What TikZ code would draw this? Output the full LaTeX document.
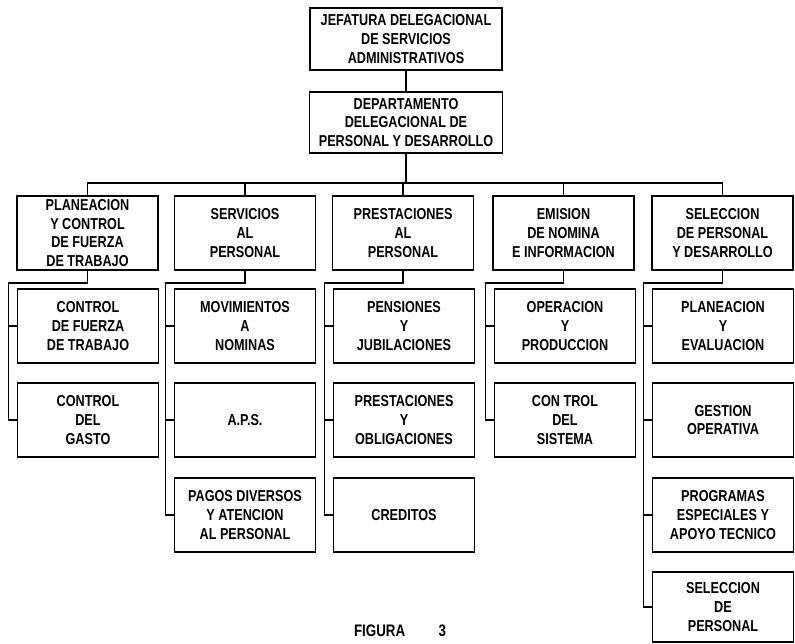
\documentclass[tikz,border=0pt]{standalone}
\usepackage{fontspec}
\setmainfont{Liberation Sans}[FakeStretch=0.8]
\begin{document}
\begin{tikzpicture}[x=0.02cm,y=-0.02cm,line width=1.1pt,
    caja/.style={draw,align=center,font=\bfseries\fontsize{9}{10.6}\selectfont,
      minimum width=2.82cm,minimum height=1.48cm,inner sep=1pt}]
  \useasboundingbox (0,0) rectangle (795,644);
  % upper levels
  \node[caja,minimum width=3.84cm,minimum height=1.24cm] (jefatura) at (406,39)
    {JEFATURA DELEGACIONAL\\DE SERVICIOS\\ADMINISTRATIVOS};
  \node[caja,minimum width=3.86cm,minimum height=1.22cm] (depto) at (406,122.5)
    {DEPARTAMENTO\\DELEGACIONAL DE\\PERSONAL Y DESARROLLO};
  % departments
  \node[caja] (planea)    at (87.5,233) {PLANEACION\\Y CONTROL\\DE FUERZA\\DE TRABAJO};
  \node[caja] (servicios) at (245,233)  {SERVICIOS\\AL\\PERSONAL};
  \node[caja] (prestac)   at (403,233)  {PRESTACIONES\\AL\\PERSONAL};
  \node[caja] (emision)   at (563.5,233) {EMISION\\DE NOMINA\\E INFORMACION};
  \node[caja] (selecc)    at (722.5,233) {SELECCION\\DE PERSONAL\\Y DESARROLLO};
  % offices, column by column
  \node[caja] (fuerza)  at (88,326) {CONTROL\\DE FUERZA\\DE TRABAJO};
  \node[caja] (gasto)   at (88,420) {CONTROL\\DEL\\GASTO};
  \node[caja] (movim)   at (245,326) {MOVIMIENTOS\\A\\NOMINAS};
  \node[caja] (aps)     at (245,420) {A.P.S.};
  \node[caja] (pagos)   at (245,515) {PAGOS DIVERSOS\\Y ATENCION\\AL PERSONAL};
  \node[caja] (pension) at (404,326) {PENSIONES\\Y\\JUBILACIONES};
  \node[caja] (oblig)   at (404,420) {PRESTACIONES\\Y\\OBLIGACIONES};
  \node[caja] (credito) at (404,515) {CREDITOS};
  \node[caja] (operac)  at (565,326) {OPERACION\\Y\\PRODUCCION};
  \node[caja] (sistema) at (565,420) {CON TROL\\DEL\\SISTEMA};
  \node[caja] (evalua)  at (723,326) {PLANEACION\\Y\\EVALUACION};
  \node[caja] (gestion) at (723,420) {GESTION\\OPERATIVA};
  \node[caja] (program) at (723,515) {PROGRAMAS\\ESPECIALES Y\\APOYO TECNICO};
  \node[caja,minimum height=1.4cm] (selpers) at (723,607) {SELECCION\\DE\\PERSONAL};
  % connectors
  \coordinate (bus) at (406,183);
  \draw (jefatura) -- (depto);
  \draw (depto) -- (bus);
  \foreach \n in {planea, servicios, prestac, emision, selecc}
  {
    \draw (\n.north) |- (bus);
  }
  \coordinate (sp1) at (8.5,283);
  \coordinate (sp2) at (165.5,283);
  \coordinate (sp3) at (324.5,283);
  \coordinate (sp4) at (485.5,283);
  \coordinate (sp5) at (643.5,283);
  \foreach \top/\last/\s in {planea/gasto/sp1, servicios/pagos/sp2,
      prestac/credito/sp3, emision/sistema/sp4, selecc/selpers/sp5}
  {
    \draw (\top.south) |- (\s) |- (\last.west);
  }
  \foreach \b/\s in {fuerza/sp1, movim/sp2, aps/sp2, pension/sp3, oblig/sp3,
      operac/sp4, evalua/sp5, gestion/sp5, program/sp5}
  {
    \draw (\b.west -| \s) -- (\b.west);
  }
  \node[font=\bfseries\fontsize{9.5}{11}\selectfont] (figura) at (400,631) {FIGURA\qquad 3};
\end{tikzpicture}
\end{document}
